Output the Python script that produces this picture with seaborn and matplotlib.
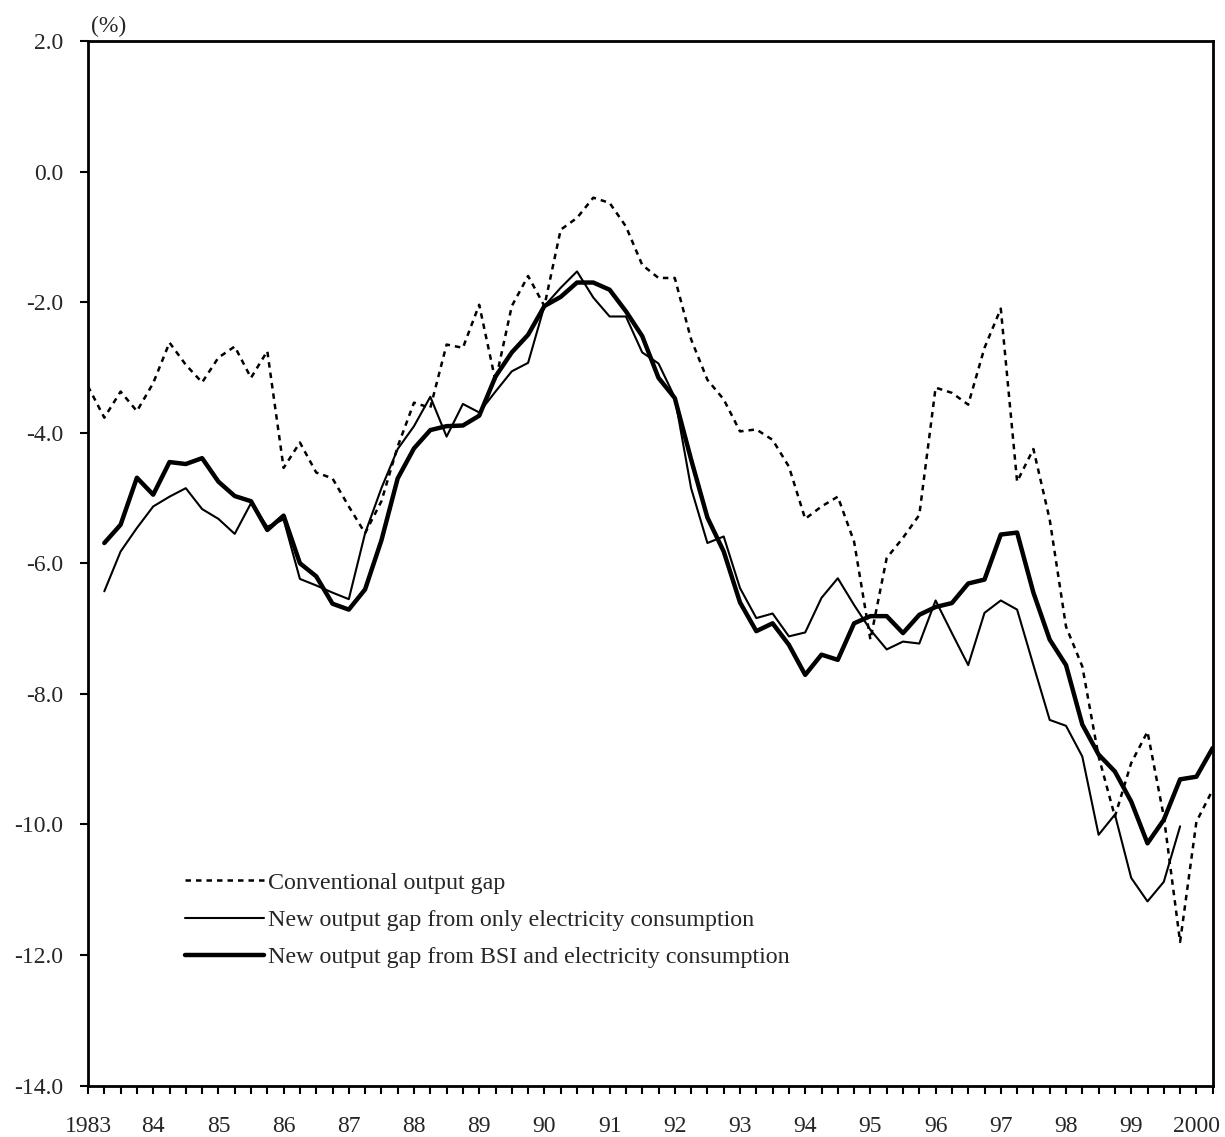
import numpy as np
import pandas as pd
import matplotlib
matplotlib.use("Agg")
import matplotlib.pyplot as plt
import seaborn as sns
from matplotlib.ticker import FixedLocator, FixedFormatter

# quarterly series, 1983Q1 .. 2000Q2
quarters = pd.period_range("1983Q1", "2000Q2", freq="Q")

conventional = [
    -3.29, -3.77, -3.37, -3.67, -3.24, -2.62, -2.96, -3.23, -2.85, -2.68,
    -3.16, -2.75, -4.54, -4.15, -4.61, -4.70, -5.13, -5.54, -5.05, -4.21,
    -3.54, -3.62, -2.65, -2.70, -2.04, -3.21, -2.06, -1.60, -2.06, -0.89,
    -0.71, -0.40, -0.48, -0.84, -1.43, -1.63, -1.63, -2.57, -3.19, -3.49,
    -3.98, -3.95, -4.11, -4.52, -5.32, -5.13, -4.98, -5.67, -7.17, -5.92,
    -5.61, -5.26, -3.31, -3.39, -3.57, -2.70, -2.10, -4.75, -4.25, -5.33,
    -6.97, -7.58, -8.96, -9.88, -9.06, -8.58, -9.88, -11.80, -9.96, -9.47,
]

elec_only = [
    np.nan, -6.43, -5.82, -5.46, -5.13, -4.98, -4.85, -5.17, -5.32, -5.55,
    -5.08, -5.44, -5.33, -6.24, -6.34, -6.45, -6.55, -5.54, -4.85, -4.25,
    -3.90, -3.45, -4.06, -3.56, -3.69, -3.37, -3.06, -2.93, -2.06, -1.78,
    -1.53, -1.93, -2.22, -2.22, -2.77, -2.94, -3.46, -4.85, -5.69, -5.59,
    -6.38, -6.84, -6.77, -7.12, -7.06, -6.53, -6.23, -6.64, -7.02, -7.32,
    -7.20, -7.23, -6.57, -7.07, -7.56, -6.76, -6.57, -6.71, -7.56, -8.40,
    -8.49, -8.96, -10.16, -9.85, -10.82, -11.18, -10.88, -10.03, np.nan, np.nan,
]

bsi_elec = [
    np.nan, -5.69, -5.41, -4.69, -4.95, -4.45, -4.48, -4.39, -4.75, -4.97,
    -5.05, -5.49, -5.27, -6.00, -6.20, -6.62, -6.71, -6.40, -5.65, -4.70,
    -4.24, -3.96, -3.90, -3.89, -3.74, -3.14, -2.77, -2.50, -2.06, -1.92,
    -1.70, -1.70, -1.81, -2.14, -2.52, -3.16, -3.47, -4.41, -5.30, -5.82,
    -6.60, -7.04, -6.92, -7.25, -7.71, -7.40, -7.48, -6.92, -6.81, -6.81,
    -7.07, -6.79, -6.67, -6.61, -6.31, -6.25, -5.56, -5.53, -6.45, -7.17,
    -7.56, -8.47, -8.93, -9.19, -9.65, -10.29, -9.93, -9.31, -9.27, -8.83,
]

labels = ["Conventional output gap",
          "New output gap from only electricity consumption",
          "New output gap from BSI and electricity consumption"]

year_labels = ["1983"] + [f"{y % 100:02d}" for y in range(1984, 2000)] + ["2000"]
y_ticks = [2.0, 0.0, -2.0, -4.0, -6.0, -8.0, -10.0, -12.0, -14.0]

df = pd.DataFrame({
    "t": quarters.year + (quarters.quarter - 1) / 4,
    "conv": conventional,
    "elec": elec_only,
    "bsi": bsi_elec,
})

sns.set_style("ticks")
plt.rcParams["font.family"] = ["Liberation Serif", "DejaVu Serif"]
plt.rcParams["axes.unicode_minus"] = False

fig = plt.figure(figsize=(12.25, 11.37), dpi=100)
ax = fig.add_axes([88 / 1225, 1 - 1085.5 / 1137, (1212.7 - 88) / 1225, (1085.5 - 41) / 1137])

sns.lineplot(data=df, x="t", y="conv", ax=ax, color="black", linewidth=1.8,
             linestyle=(0, (2.2, 2.0)), label=labels[0])
sns.lineplot(data=df.dropna(subset=["elec"]), x="t", y="elec", ax=ax, color="black",
             linewidth=1.5, label=labels[1])
sns.lineplot(data=df.dropna(subset=["bsi"]), x="t", y="bsi", ax=ax, color="black",
             linewidth=3.2, label=labels[2])

ax.set_xlim(1983, 2000.25)
ax.set_ylim(-14, 2)
ax.xaxis.set_major_locator(FixedLocator(list(range(1983, 2001))))
ax.xaxis.set_major_formatter(FixedFormatter(year_labels))
ax.xaxis.set_minor_locator(FixedLocator(list(df["t"])))
ax.yaxis.set_major_locator(FixedLocator(y_ticks))
ax.yaxis.set_major_formatter(FixedFormatter([f"{v:.1f}" for v in y_ticks]))

ax.tick_params(axis="x", which="both", direction="out", length=6, width=1.5,
               labelsize=17, pad=16, color="black")
ax.tick_params(axis="y", which="major", direction="out", length=6, width=1.5,
               labelsize=17, pad=12, color="black")
for s in ax.spines.values():
    s.set_visible(True)
    s.set_linewidth(2.0)
    s.set_color("black")
ax.set_xlabel("")
ax.set_ylabel("")
ax.grid(False)

ax.text(0.003, 1.004, "(%)", transform=ax.transAxes, fontsize=17,
        ha="left", va="bottom")

ax.legend(loc="upper left", bbox_to_anchor=(185 / 1225, 1 - 872 / 1137),
          bbox_transform=fig.transFigure, frameon=False, fontsize=17.3,
          handlelength=3.3, handletextpad=0.15, labelspacing=0.64,
          borderpad=0, borderaxespad=0)

fig.savefig("out.png", dpi=100, facecolor="white")
